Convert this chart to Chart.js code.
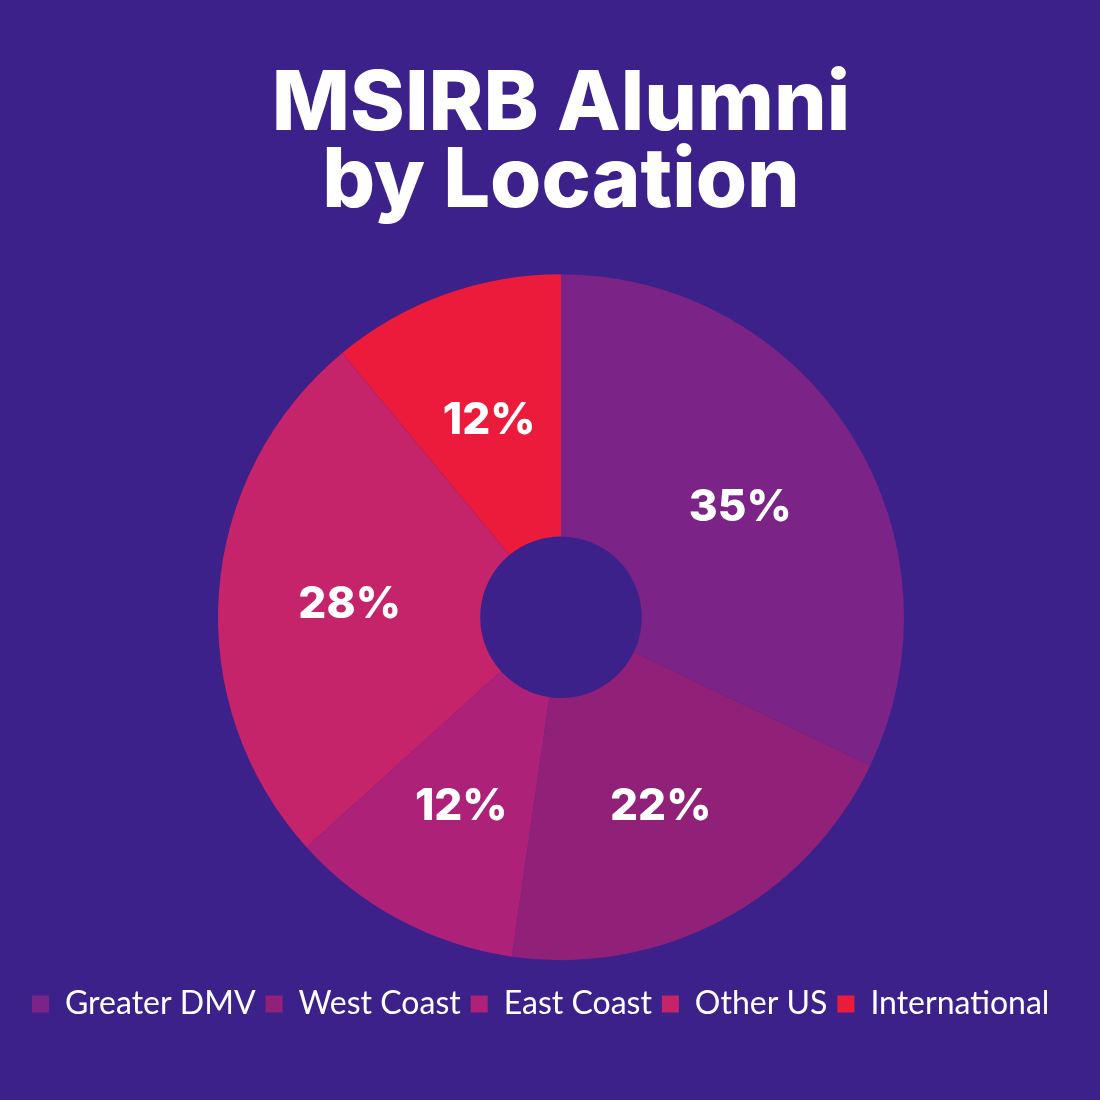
<!DOCTYPE html>
<html>
<head>
<meta charset="utf-8">
<script src="https://cdn.jsdelivr.net/npm/chart.js@4"></script>
<style>
  html, body { margin: 0; padding: 0; background: #3c218b; }
  #wrap { width: 1100px; height: 1100px; }
</style>
</head>
<body>
<div id="wrap"><canvas id="alumniChart" width="1100" height="1100"></canvas></div>
<script>
const locations = ['Greater DMV', 'West Coast', 'East Coast', 'Other US', 'International'];
const shares = [35, 22, 12, 28, 12];
const sliceColors = ['#7b2387', '#912079', '#ad2278', '#c5236a', '#ec1b3b'];

// percentage labels in the middle of each ring slice
const sliceLabels = {
  id: 'sliceLabels',
  afterDatasetsDraw(chart) {
    const ctx = chart.ctx;
    const meta = chart.getDatasetMeta(0);
    ctx.save();
    ctx.fillStyle = '#ffffff';
    ctx.font = '800 44px Inter, Lato, "Noto Sans", sans-serif';
    ctx.textAlign = 'center';
    ctx.textBaseline = 'middle';
    meta.data.forEach((arc, i) => {
      const p = arc.getCenterPoint();
      ctx.fillText(shares[i] + '%', p.x, p.y + 3);
    });
    ctx.restore();
  }
};

new Chart(document.getElementById('alumniChart').getContext('2d'), {
  type: 'doughnut',
  data: {
    labels: locations,
    datasets: [{
      data: shares,
      backgroundColor: sliceColors,
      borderWidth: 0
    }]
  },
  options: {
    responsive: false,
    animation: false,
    radius: 343,
    cutout: 85,
    layout: { padding: { top: 66, bottom: 70, left: 22, right: 0 } },
    plugins: {
      title: {
        display: true,
        text: ['MSIRB Alumni', 'by Location'],
        color: '#ffffff',
        font: { family: 'Inter, Lato, "Noto Sans", sans-serif', size: 83, weight: '800', lineHeight: 0.93 },
        padding: { top: 0, bottom: 36 }
      },
      legend: {
        position: 'bottom',
        align: 'start',
        labels: {
          color: '#ffffff',
          font: { family: 'Lato, "Noto Sans", sans-serif', size: 32, weight: '400' },
          boxWidth: 17,
          boxHeight: 17,
          padding: 10,
          generateLabels(chart) {
            return chart.data.labels.map((l, i) => ({
              text: l,
              fillStyle: sliceColors[i],
              strokeStyle: sliceColors[i],
              lineWidth: 0,
              fontColor: '#ffffff',
              index: i
            }));
          }
        }
      },
      tooltip: { enabled: false }
    }
  },
  plugins: [sliceLabels]
});
</script>
</body>
</html>
